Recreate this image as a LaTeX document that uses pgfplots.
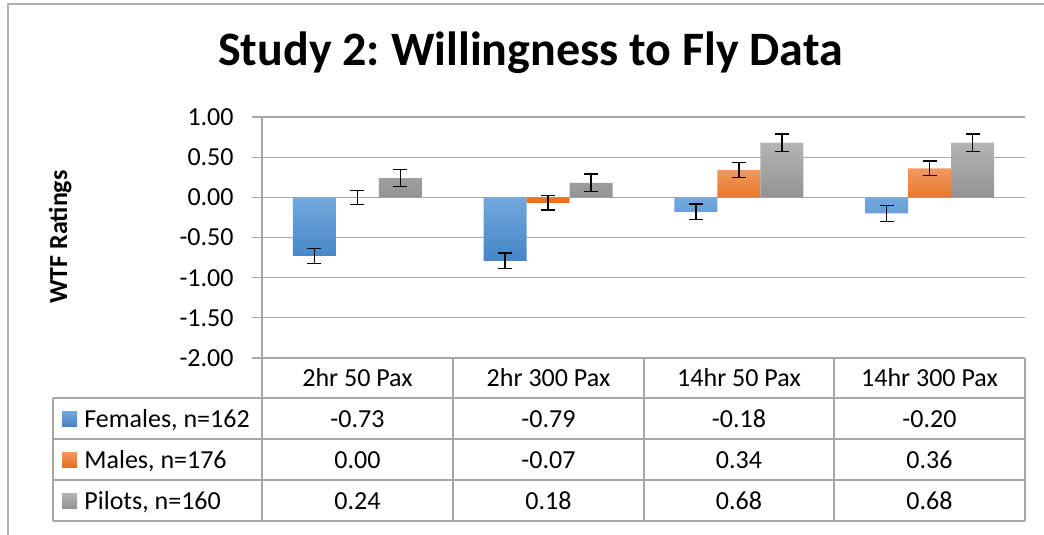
\documentclass[border=0pt]{standalone}
\usepackage{fontspec}
\setmainfont{Carlito}
\usepackage{pgfplots}
\pgfplotsset{compat=1.18}
\definecolor{gridgray}{HTML}{A6A6A6}
\definecolor{framegray}{HTML}{B0B0B0}
\definecolor{bluetop}{HTML}{72A9DE}
\definecolor{bluebot}{HTML}{4585C6}
\definecolor{orangetop}{HTML}{F29A62}
\definecolor{orangebot}{HTML}{E56F1F}
\definecolor{graytop}{HTML}{B4B4B4}
\definecolor{graybot}{HTML}{939393}
\newcommand{\tfont}{\fontsize{13}{15}\selectfont}
\frenchspacing
\begin{document}
\begin{tikzpicture}[x=0.5pt,y=-0.5pt]
\useasboundingbox (0,0) rectangle (1044,535);
% outer chart frame (partially visible)
\draw[framegray, line width=0.75pt] (8,535) -- (8,4) -- (1044,4);
\begin{axis}[
  at={(131pt,-179pt)}, anchor=south west,
  width=381.5pt, height=120.5pt, scale only axis,
  xmin=-0.5, xmax=3.5, ymin=-2, ymax=1,
  xtick=\empty,
  ytick={-2,-1.5,-1,-0.5,0,0.5,1},
  ytick pos=left,
  tick align=outside,
  major tick length=5pt,
  ytick style={gridgray, line width=0.6pt},
  ymajorgrids,
  grid style={gridgray, line width=0.6pt},
  axis line style={draw=none},
  ybar=0pt, bar width=21.5pt,
  clip=false,
  yticklabel style={font=\tfont, anchor=east, inner sep=0pt, xshift=-9pt},
  yticklabel={\pgfmathprintnumber[fixed,fixed zerofill,precision=2,assume math mode=true]{\tick}},
  error bars/y dir=both,
  error bars/y explicit,
  error bars/error bar style={black, line width=0.7pt},
  error bars/error mark options={black, line width=0.7pt, mark size=3.5pt, rotate=90},
]
% Females
\addplot[draw=none, top color=bluetop, bottom color=bluebot] coordinates {
  (0,-0.73) +- (0,0.09)
  (1,-0.79) +- (0,0.095)
  (2,-0.18) +- (0,0.097)
  (3,-0.20) +- (0,0.10)
};
% Males
\addplot[draw=none, top color=orangetop, bottom color=orangebot] coordinates {
  (0,0.00) +- (0,0.087)
  (1,-0.07) +- (0,0.09)
  (2,0.34) +- (0,0.09)
  (3,0.36) +- (0,0.09)
};
% Pilots
\addplot[draw=none, top color=graytop, bottom color=graybot] coordinates {
  (0,0.24) +- (0,0.105)
  (1,0.18) +- (0,0.11)
  (2,0.68) +- (0,0.11)
  (3,0.68) +- (0,0.11)
};
\end{axis}
% y axis line extended down through the data table
\draw[gridgray, line width=0.6pt] (262,117) -- (262,521);
% data table lines
\foreach \xx in {453,644,834,1025} \draw[gridgray, line width=0.6pt] (\xx,358) -- (\xx,521);
\draw[gridgray, line width=0.6pt] (53,398) -- (53,521);
\foreach \yy in {398,439,480,521} \draw[gridgray, line width=0.6pt] (53,\yy) -- (1025,\yy);
% category names
\foreach \cx/\lab in {357.5/2hr 50 Pax, 548.5/2hr 300 Pax, 739/14hr 50 Pax, 929.5/14hr 300 Pax}
  \node[font=\tfont, anchor=base] at (\cx,386) {\lab};
% legend keys in table
\shade[top color=bluetop, bottom color=bluebot] (62,411) rectangle (77,426);
\shade[top color=orangetop, bottom color=orangebot] (62,452) rectangle (77,467);
\shade[top color=graytop, bottom color=graybot] (62,493) rectangle (77,508);
\node[font=\tfont, anchor=base west, inner sep=0pt] at (84,427) {Females, n=162};
\node[font=\tfont, anchor=base west, inner sep=0pt] at (84,468) {Males, n=176};
\node[font=\tfont, anchor=base west, inner sep=0pt] at (84,509) {Pilots, n=160};
% table values
\foreach \cx/\va/\vb/\vc in {357.5/-0.73/0.00/0.24, 548.5/-0.79/-0.07/0.18, 739/-0.18/0.34/0.68, 929.5/-0.20/0.36/0.68}{
  \node[font=\tfont, anchor=base] at (\cx,427) {\va};
  \node[font=\tfont, anchor=base] at (\cx,468) {\vb};
  \node[font=\tfont, anchor=base] at (\cx,509) {\vc};
}
% title
\node[font=\fontsize{24}{28}\selectfont\bfseries, anchor=base] at (530.5,66) {Study 2: Willingness to Fly Data};
% y label
\node[font=\tfont\bfseries, rotate=90, anchor=base] at (67,237) {WTF Ratings};
\end{tikzpicture}
\end{document}
